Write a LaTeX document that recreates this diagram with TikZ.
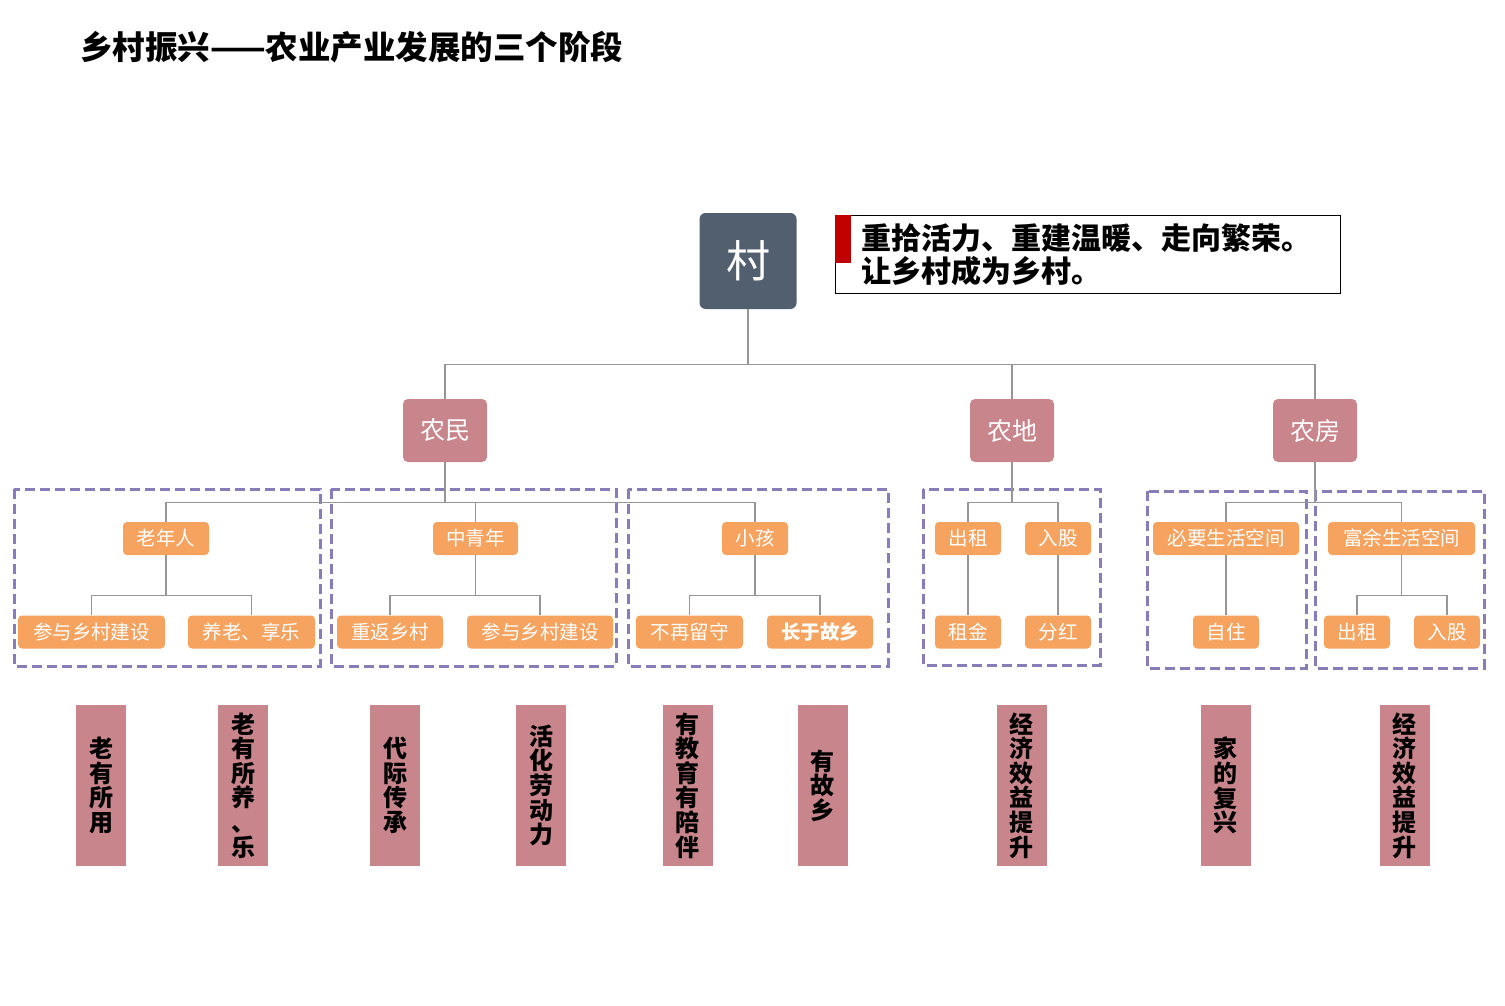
\documentclass[tikz,border=0pt]{standalone}
\usepackage{fontspec}
\newfontfamily\cjk{Noto Sans CJK SC}
\definecolor{cunc}{RGB}{82,95,110}
\definecolor{rose}{RGB}{200,134,140}
\definecolor{orng}{RGB}{246,163,96}
\definecolor{purp}{RGB}{137,125,185}
\definecolor{lgray}{RGB}{150,150,150}
\definecolor{redbar}{RGB}{192,0,0}
\begin{document}
\begin{tikzpicture}[x=1pt,y=-1pt,
  cunbox/.style={fill=cunc, rounded corners=6pt, minimum width=97pt, minimum height=96pt, inner sep=0pt, text=white, font=\cjk\fontsize{44}{44}\selectfont},
  topbox/.style={fill=rose, rounded corners=5pt, minimum width=84pt, minimum height=63pt, inner sep=0pt, text=white, font=\cjk\fontsize{25}{25}\selectfont},
  obox/.style={fill=orng, rounded corners=4pt, minimum width=#1, minimum height=33pt, inner sep=0pt, text=white, font=\cjk\fontsize{19.5}{19.5}\selectfont},
  barbox/.style={fill=rose, minimum width=50pt, minimum height=161pt, inner sep=0pt, align=center, font=\cjk\bfseries\fontsize{24}{24.6}\selectfont},
  grp/.style={draw=purp, line width=3pt, dash pattern=on 10pt off 5pt},
  conn/.style={draw=lgray, line width=1.4pt}]
\useasboundingbox (0,0) rectangle (1505,1006);
% title
\node[anchor=west, inner sep=0pt, font=\cjk\bfseries\fontsize{32.5}{32.5}\selectfont] (title) at (80,47) {乡村振兴——农业产业发展的三个阶段};
% message box
\node[draw=black, line width=0.8pt, anchor=north west, minimum width=505pt, minimum height=78pt, inner sep=0pt] (msg) at (835,215) {};
\node[fill=redbar, anchor=north west, minimum width=16pt, minimum height=48pt, inner sep=0pt] (rbar) at (835,215) {};
\node[anchor=west, inner sep=0pt, font=\cjk\bfseries\fontsize{30}{30}\selectfont] (msg1) at (861,238) {重拾活力、重建温暖、走向繁荣。};
\node[anchor=west, inner sep=0pt, font=\cjk\bfseries\fontsize{30}{30}\selectfont] (msg2) at (861,271) {让乡村成为乡村。};
% group boxes
\draw[grp] (14,489) rectangle (320,666);
\draw[grp] (331,489) rectangle (616,666);
\draw[grp] (628,489) rectangle (888,666);
\draw[grp] (923,489) rectangle (1100,665);
\draw[grp] (1147,491) rectangle (1306,668);
\draw[grp] (1315,491) rectangle (1484,668);
% root and top level
\node[cunbox] (cun) at (748,261) {村};
\node[topbox] (nm) at (445,430.5) {农民};
\node[topbox] (nd) at (1012,430.5) {农地};
\node[topbox] (nf) at (1315,430.5) {农房};
% level 2
\node[obox=86pt] (lnr) at (166,538.5) {老年人};
\node[obox=85pt] (zqn) at (475.5,538.5) {中青年};
\node[obox=66pt] (xh) at (755,538.5) {小孩};
\node[obox=66pt] (cz1) at (968,538.5) {出租};
\node[obox=66pt] (rg1) at (1058,538.5) {入股};
\node[obox=146pt] (by) at (1226,538.5) {必要生活空间};
\node[obox=147pt] (fy) at (1401.5,538.5) {富余生活空间};
% level 3
\node[obox=147pt] (a1) at (91.5,632) {参与乡村建设};
\node[obox=127pt] (a2) at (251.5,632) {养老、享乐};
\node[obox=106pt] (b1) at (390,632) {重返乡村};
\node[obox=146pt] (b2) at (540,632) {参与乡村建设};
\node[obox=107pt] (c1) at (689.5,632) {不再留守};
\node[obox=106pt, font=\cjk\bfseries\fontsize{19.5}{19.5}\selectfont] (c2) at (820,632) {长于故乡};
\node[obox=66pt] (d1) at (968,632) {租金};
\node[obox=66pt] (d2) at (1058,632) {分红};
\node[obox=66pt] (e1) at (1226,632) {自住};
\node[obox=66pt] (f1) at (1357,632) {出租};
\node[obox=66pt] (f2) at (1447,632) {入股};
% connectors
\path (cun.south) ++(0,55) coordinate (j1);
\draw[conn] (cun.south) -- (j1);
\draw[conn] (nm.north) |- (j1);
\draw[conn] (nd.north) |- (j1);
\draw[conn] (nf.north) |- (j1);
\path (nm.south) ++(0,40) coordinate (j2);
\draw[conn] (nm.south) -- (j2);
\draw[conn] (lnr.north) |- (j2);
\draw[conn] (zqn.north) |- (j2);
\draw[conn] (xh.north) |- (j2);
\path (nd.south) ++(0,40) coordinate (j3);
\draw[conn] (nd.south) -- (j3);
\draw[conn] (cz1.north) |- (j3);
\draw[conn] (rg1.north) |- (j3);
\path (nf.south) ++(0,40) coordinate (j4);
\draw[conn] (nf.south) -- (j4);
\draw[conn] (by.north) |- (j4);
\draw[conn] (fy.north) |- (j4);
\path (lnr.south) ++(0,40) coordinate (k1);
\draw[conn] (lnr.south) -- (k1);
\draw[conn] (a1.north) |- (k1);
\draw[conn] (a2.north) |- (k1);
\path (zqn.south) ++(0,40) coordinate (k2);
\draw[conn] (zqn.south) -- (k2);
\draw[conn] (b1.north) |- (k2);
\draw[conn] (b2.north) |- (k2);
\path (xh.south) ++(0,40) coordinate (k3);
\draw[conn] (xh.south) -- (k3);
\draw[conn] (c1.north) |- (k3);
\draw[conn] (c2.north) |- (k3);
\draw[conn] (cz1.south) -- (d1.north);
\draw[conn] (rg1.south) -- (d2.north);
\draw[conn] (by.south) -- (e1.north);
\path (fy.south) ++(0,40) coordinate (k4);
\draw[conn] (fy.south) -- (k4);
\draw[conn] (f1.north) |- (k4);
\draw[conn] (f2.north) |- (k4);
% bottom bars
\node[barbox] (r1) at (101,785.5) {老\\有\\所\\用};
\node[barbox] (r2) at (243,785.5) {老\\有\\所\\养\\、\\乐};
\node[barbox] (r3) at (395,785.5) {代\\际\\传\\承};
\node[barbox] (r4) at (541,785.5) {活\\化\\劳\\动\\力};
\node[barbox] (r5) at (687.5,785.5) {有\\教\\育\\有\\陪\\伴};
\node[barbox] (r6) at (822.5,785.5) {有\\故\\乡};
\node[barbox] (r7) at (1021.5,785.5) {经\\济\\效\\益\\提\\升};
\node[barbox] (r8) at (1225.5,785.5) {家\\的\\复\\兴};
\node[barbox] (r9) at (1404.5,785.5) {经\\济\\效\\益\\提\\升};
\end{tikzpicture}
\end{document}
